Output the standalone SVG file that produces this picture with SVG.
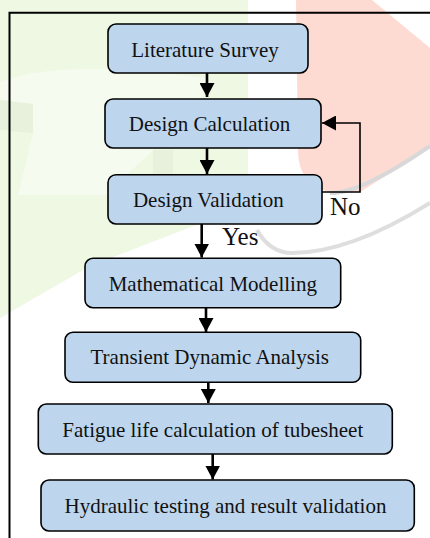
<svg xmlns="http://www.w3.org/2000/svg" width="430" height="538" viewBox="0 0 430 538">
  <style>
    .box { fill: #bdd6ee; stroke: #000; stroke-width: 1.6; }
    .label { font-family: "Liberation Serif", "Times New Roman", serif; font-size: 21px; fill: #111; text-anchor: middle; }
    .tag { font-family: "Liberation Serif", "Times New Roman", serif; font-size: 25px; fill: #111; }
    .flow { fill: none; stroke: #000; stroke-width: 2.6; }
    .loop { fill: none; stroke: #000; stroke-width: 1.6; }
  </style>
  <defs>
    <marker id="head" viewBox="0 0 14 15" refX="14" refY="7.5" markerWidth="14" markerHeight="15" markerUnits="userSpaceOnUse" orient="auto">
      <path d="M0,0 L14,7.5 L0,15 Z" fill="#000"/>
    </marker>
  </defs>

  <!-- faint background emblem -->
  <g id="backdrop">
    <rect x="0" y="0" width="430" height="538" fill="#fff"/>
    <path d="M0,0 H248 V205 L90,266 L0,318 Z" fill="#eef8e3"/>
    <path d="M0,82 Q60,58 205,78 L200,110 Q150,150 107,195 L18,195 L33,133 L0,100 Z" fill="#fbfdf8" opacity="0.55"/>
    <path d="M0,100 L33,104 L33,133 L0,130 Z" fill="#e7f1dc"/>
    <path d="M153,150 H173 V188 H153 Z" fill="#e7f1dc"/>
    <path d="M296,0 H372 L430,48 V148 Q395,170 360,192 L330,192 Q298,185 298,150 Z" fill="#fedbd2"/>
    <path d="M330,193 Q360,194 430,146" fill="none" stroke="#d8d8d8" stroke-width="4"/>
    <path d="M257,230 Q270,253 292,253 Q350,253 430,203" fill="none" stroke="#dedede" stroke-width="4"/>
  </g>

  <!-- outer frame -->
  <path d="M9.5,538 V12.7 H430" fill="none" stroke="#000" stroke-width="2"/>

  <g id="connectors">
    <line class="flow" x1="207" y1="73" x2="207" y2="97" marker-end="url(#head)"/>
    <line class="flow" x1="207" y1="148" x2="207" y2="174" marker-end="url(#head)"/>
    <line class="flow" x1="201.7" y1="224" x2="201.7" y2="257.5" marker-end="url(#head)"/>
    <line class="flow" x1="206" y1="308" x2="206" y2="332" marker-end="url(#head)"/>
    <line class="flow" x1="208.3" y1="382" x2="208.3" y2="403" marker-end="url(#head)"/>
    <line class="flow" x1="212.7" y1="454" x2="212.7" y2="479.5" marker-end="url(#head)"/>
    <path class="loop" d="M322,192 H360 V123 H322" marker-end="url(#head)"/>
    <text class="tag" x="330" y="215">No</text>
    <text class="tag" x="222" y="245">Yes</text>
  </g>

  <g id="literature-survey">
    <rect class="box" x="108" y="24" width="200" height="49" rx="8"/>
    <text class="label" x="205" y="56.5">Literature Survey</text>
  </g>
  <g id="design-calculation">
    <rect class="box" x="105" y="99" width="216" height="49" rx="8"/>
    <text class="label" x="209.5" y="130.7">Design Calculation</text>
  </g>
  <g id="design-validation">
    <rect class="box" x="108" y="174.7" width="214" height="49.3" rx="8"/>
    <text class="label" x="208.3" y="206.7">Design Validation</text>
  </g>
  <g id="mathematical-modelling">
    <rect class="box" x="85" y="258.3" width="255.7" height="49.4" rx="8"/>
    <text class="label" x="212.8" y="290.7">Mathematical Modelling</text>
  </g>
  <g id="transient-dynamic-analysis">
    <rect class="box" x="65" y="332.3" width="295.7" height="50" rx="8"/>
    <text class="label" x="209.7" y="364">Transient Dynamic Analysis</text>
  </g>
  <g id="fatigue-life">
    <rect class="box" x="38.3" y="404" width="354" height="50" rx="8"/>
    <text class="label" x="212.8" y="436.7">Fatigue life calculation of tubesheet</text>
  </g>
  <g id="hydraulic-testing">
    <rect class="box" x="41" y="480" width="373.3" height="51" rx="8"/>
    <text class="label" x="225.5" y="513.3">Hydraulic testing and result validation</text>
  </g>
</svg>
